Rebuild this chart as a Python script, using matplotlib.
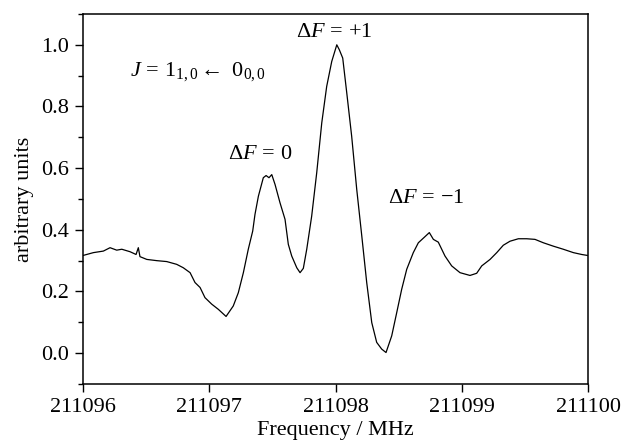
import matplotlib
matplotlib.use("Agg")
import matplotlib.pyplot as plt
from matplotlib.ticker import MultipleLocator

# fontes tipo Times
plt.rcParams['font.family'] = ['Liberation Serif', 'DejaVu Serif']
plt.rcParams['mathtext.fontset'] = 'custom'
plt.rcParams['mathtext.rm'] = 'Liberation Serif'
plt.rcParams['mathtext.it'] = 'Liberation Serif:italic'
plt.rcParams['mathtext.bf'] = 'Liberation Serif:bold'

f_offset = [0.002, 0.082, 0.161, 0.214, 0.267, 0.307, 0.372, 0.420, 0.438, 0.451,
            0.505, 0.584, 0.663, 0.742, 0.794, 0.848, 0.887, 0.927, 0.966, 1.019,
            1.072, 1.133, 1.190, 1.230, 1.270, 1.309, 1.344, 1.362, 1.389, 1.428,
            1.450, 1.473, 1.495, 1.521, 1.560, 1.600, 1.626, 1.653, 1.693, 1.719,
            1.745, 1.772, 1.811, 1.851, 1.891, 1.930, 1.970, 2.010, 2.030, 2.057,
            2.089, 2.128, 2.168, 2.208, 2.247, 2.287, 2.326, 2.366, 2.400, 2.445,
            2.485, 2.524, 2.564, 2.616, 2.656, 2.709, 2.743, 2.775, 2.814, 2.867,
            2.920, 2.986, 3.065, 3.118, 3.158, 3.224, 3.277, 3.329, 3.382, 3.448,
            3.514, 3.580, 3.646, 3.725, 3.804, 3.884, 3.950, 3.994]
intensidade = [0.317, 0.326, 0.331, 0.342, 0.334, 0.337, 0.329, 0.320, 0.342, 0.313,
               0.304, 0.300, 0.297, 0.288, 0.277, 0.261, 0.229, 0.213, 0.180, 0.159,
               0.142, 0.119, 0.153, 0.196, 0.261, 0.337, 0.396, 0.450, 0.509, 0.569,
               0.576, 0.569, 0.579, 0.547, 0.488, 0.434, 0.353, 0.315, 0.277, 0.261,
               0.275, 0.337, 0.444, 0.585, 0.747, 0.865, 0.946, 1.000, 0.984, 0.957,
               0.844, 0.703, 0.531, 0.380, 0.229, 0.099, 0.035, 0.013, 0.002, 0.056,
               0.132, 0.207, 0.272, 0.326, 0.358, 0.378, 0.391, 0.369, 0.360, 0.315,
               0.283, 0.261, 0.252, 0.259, 0.283, 0.304, 0.326, 0.350, 0.363, 0.371,
               0.371, 0.369, 0.358, 0.347, 0.337, 0.326, 0.320, 0.317]
f0 = 211096
freq = [f0 + v for v in f_offset]

# rotulos das transicoes
rotulos = [r'$\Delta F\,=\,{+}1$', r'$\Delta F\,=\,0$', r'$\Delta F\,=\,{-}1$']
rot_x = [211097.99, 211097.40, 211098.72]
rot_y = [1.04, 0.645, 0.50]

fig = plt.figure(figsize=(6.21, 4.48), dpi=100)
ax = fig.add_axes([0.1337, 0.1429, 0.8132, 0.8259])

ax.plot(freq, intensidade, color='black', linewidth=0.9)

for t, x, y in zip(rotulos, rot_x, rot_y):
    ax.text(x, y, t, ha='center', va='center', fontsize=16)
ax.text(211096.37, 0.913, r'$J\,=\,1_{1,0} \leftarrow\ 0_{0,0}$', ha='left', va='center', fontsize=16)

ax.set_xlim(211096, 211100)
ax.set_ylim(-0.1, 1.1)
ax.xaxis.set_major_locator(MultipleLocator(1))
ax.yaxis.set_major_locator(MultipleLocator(0.2))
ax.yaxis.set_minor_locator(MultipleLocator(0.1))
ax.ticklabel_format(axis='x', useOffset=False, style='plain')
ax.yaxis.set_major_formatter(matplotlib.ticker.FormatStrFormatter('%.1f'))
ax.tick_params(which='major', direction='out', length=6, width=1, labelsize=16, pad=4)
ax.tick_params(which='minor', direction='out', length=3.5, width=1)
ax.tick_params(top=False, right=False)
for s in ax.spines.values():
    s.set_linewidth(1.1)

ax.set_xlabel('Frequency / MHz', fontsize=16, labelpad=3)
ax.set_ylabel('arbitrary units', fontsize=16, labelpad=5)

fig.savefig('out.png', dpi=100)
